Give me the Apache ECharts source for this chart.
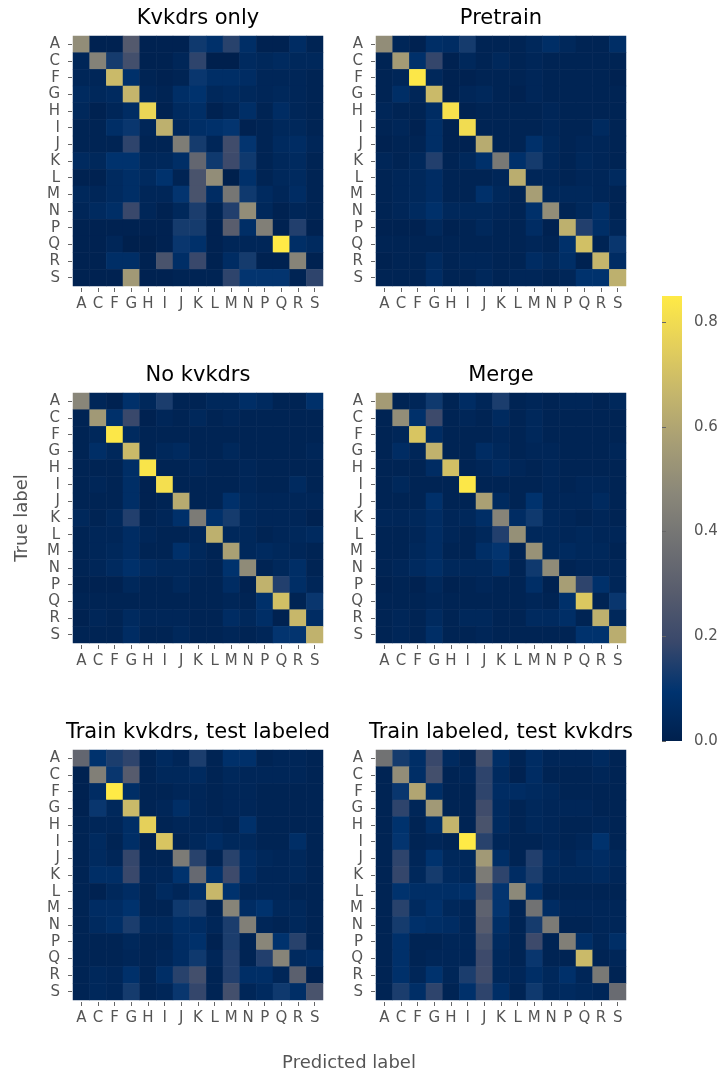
<!DOCTYPE html>
<html>
<head>
<meta charset="utf-8">
<script src="https://cdn.jsdelivr.net/npm/echarts@6/dist/echarts.min.js"></script>
<style>
html,body{margin:0;padding:0;background:#fff;}
#chart{width:721px;height:1075px;}
</style>
</head>
<body>
<div id="chart"></div>
<script>
// ---- data ----
const labels = ['A','C','F','G','H','I','J','K','L','M','N','P','Q','R','S'];
const titles = ['Kvkdrs only','Pretrain','No kvkdrs','Merge','Train kvkdrs, test labeled','Train labeled, test kvkdrs'];
const colorbarTicks = [0, 0.2, 0.4, 0.6, 0.8];
const colorMin = 0;
const colorMax = 0.85;

// rows = true label, columns = predicted label
const kvkdrsOnly = [
 [0.50,0.01,0.01,0.27,0.01,0.01,0.01,0.12,0.08,0.16,0.07,0.01,0.01,0.06,0.02],
 [0.03,0.45,0.13,0.22,0.01,0.01,0.03,0.17,0.00,0.00,0.05,0.04,0.05,0.04,0.04],
 [0.03,0.03,0.68,0.08,0.02,0.01,0.02,0.11,0.07,0.07,0.06,0.03,0.03,0.03,0.02],
 [0.05,0.04,0.05,0.66,0.03,0.02,0.07,0.09,0.04,0.05,0.04,0.03,0.04,0.03,0.02],
 [0.04,0.01,0.03,0.06,0.78,0.01,0.05,0.07,0.01,0.03,0.07,0.02,0.06,0.03,0.02],
 [0.02,0.02,0.07,0.11,0.03,0.64,0.04,0.07,0.08,0.10,0.01,0.02,0.04,0.04,0.02],
 [0.02,0.02,0.02,0.17,0.02,0.02,0.43,0.13,0.03,0.21,0.10,0.02,0.05,0.06,0.03],
 [0.05,0.04,0.09,0.09,0.04,0.04,0.07,0.33,0.12,0.20,0.12,0.02,0.04,0.05,0.02],
 [0.01,0.01,0.05,0.07,0.05,0.09,0.02,0.24,0.50,0.00,0.08,0.02,0.04,0.05,0.02],
 [0.04,0.03,0.05,0.07,0.03,0.03,0.10,0.24,0.06,0.40,0.12,0.05,0.03,0.06,0.02],
 [0.03,0.05,0.07,0.19,0.03,0.01,0.04,0.14,0.02,0.15,0.50,0.04,0.01,0.03,0.02],
 [0.01,0.01,0.01,0.01,0.01,0.01,0.13,0.13,0.01,0.29,0.07,0.44,0.01,0.15,0.01],
 [0.01,0.01,0.03,0.00,0.00,0.01,0.11,0.08,0.01,0.03,0.03,0.03,0.85,0.07,0.05],
 [0.01,0.01,0.07,0.07,0.01,0.24,0.07,0.19,0.01,0.06,0.13,0.01,0.01,0.46,0.01],
 [0.01,0.01,0.01,0.55,0.01,0.01,0.02,0.02,0.02,0.17,0.10,0.10,0.10,0.02,0.17]
];
const pretrain = [
 [0.50,0.03,0.01,0.07,0.06,0.13,0.02,0.02,0.02,0.04,0.07,0.04,0.02,0.02,0.07],
 [0.02,0.56,0.08,0.18,0.01,0.04,0.02,0.04,0.02,0.03,0.02,0.02,0.02,0.02,0.02],
 [0.02,0.03,0.84,0.04,0.01,0.01,0.02,0.02,0.02,0.03,0.02,0.02,0.02,0.02,0.01],
 [0.02,0.07,0.03,0.68,0.01,0.03,0.04,0.02,0.01,0.03,0.02,0.02,0.02,0.02,0.02],
 [0.03,0.02,0.02,0.06,0.82,0.01,0.02,0.02,0.02,0.02,0.03,0.02,0.02,0.02,0.02],
 [0.02,0.03,0.01,0.07,0.01,0.80,0.02,0.02,0.02,0.02,0.03,0.02,0.02,0.05,0.02],
 [0.01,0.02,0.02,0.07,0.01,0.01,0.62,0.02,0.02,0.08,0.04,0.02,0.03,0.03,0.02],
 [0.03,0.02,0.04,0.15,0.02,0.04,0.08,0.41,0.08,0.13,0.04,0.02,0.04,0.03,0.02],
 [0.02,0.03,0.04,0.06,0.02,0.02,0.02,0.03,0.63,0.03,0.03,0.02,0.03,0.03,0.05],
 [0.02,0.03,0.04,0.06,0.02,0.02,0.08,0.04,0.02,0.57,0.04,0.04,0.04,0.03,0.02],
 [0.02,0.03,0.05,0.08,0.04,0.04,0.04,0.03,0.02,0.08,0.50,0.02,0.04,0.07,0.02],
 [0.01,0.01,0.01,0.04,0.01,0.02,0.04,0.02,0.02,0.06,0.01,0.64,0.15,0.07,0.03],
 [0.02,0.02,0.02,0.02,0.02,0.02,0.02,0.02,0.02,0.03,0.02,0.08,0.70,0.02,0.11],
 [0.01,0.02,0.02,0.05,0.02,0.03,0.03,0.02,0.02,0.06,0.04,0.07,0.01,0.66,0.06],
 [0.02,0.02,0.02,0.06,0.02,0.02,0.04,0.02,0.03,0.03,0.02,0.03,0.09,0.09,0.64]
];
const noKvkdrs = [
 [0.47,0.03,0.01,0.08,0.04,0.14,0.02,0.02,0.04,0.04,0.07,0.05,0.02,0.02,0.08],
 [0.02,0.55,0.08,0.19,0.01,0.03,0.02,0.04,0.02,0.03,0.02,0.02,0.02,0.02,0.02],
 [0.02,0.04,0.84,0.05,0.02,0.02,0.02,0.02,0.02,0.02,0.02,0.02,0.02,0.02,0.02],
 [0.02,0.07,0.04,0.68,0.02,0.04,0.05,0.02,0.02,0.04,0.02,0.02,0.02,0.02,0.03],
 [0.02,0.02,0.02,0.07,0.83,0.02,0.02,0.03,0.02,0.02,0.03,0.02,0.02,0.02,0.02],
 [0.02,0.03,0.02,0.07,0.01,0.81,0.02,0.02,0.02,0.02,0.03,0.02,0.02,0.05,0.02],
 [0.02,0.02,0.02,0.07,0.01,0.02,0.62,0.02,0.02,0.08,0.04,0.03,0.03,0.03,0.03],
 [0.04,0.02,0.04,0.15,0.02,0.03,0.08,0.42,0.08,0.13,0.04,0.03,0.03,0.03,0.01],
 [0.02,0.03,0.03,0.06,0.03,0.02,0.02,0.03,0.64,0.04,0.04,0.02,0.03,0.04,0.05],
 [0.02,0.03,0.04,0.06,0.02,0.02,0.08,0.04,0.02,0.58,0.04,0.05,0.04,0.03,0.02],
 [0.02,0.03,0.05,0.08,0.05,0.04,0.04,0.03,0.02,0.09,0.49,0.02,0.04,0.07,0.02],
 [0.01,0.01,0.01,0.04,0.02,0.02,0.04,0.02,0.02,0.06,0.01,0.65,0.15,0.07,0.03],
 [0.02,0.02,0.02,0.02,0.02,0.02,0.02,0.02,0.02,0.03,0.02,0.08,0.70,0.02,0.11],
 [0.01,0.03,0.02,0.05,0.03,0.03,0.03,0.02,0.02,0.06,0.04,0.07,0.01,0.67,0.06],
 [0.02,0.02,0.02,0.06,0.02,0.02,0.04,0.02,0.02,0.03,0.02,0.03,0.10,0.10,0.65]
];
const merge = [
 [0.56,0.02,0.03,0.12,0.02,0.06,0.03,0.14,0.02,0.03,0.02,0.03,0.03,0.02,0.04],
 [0.02,0.50,0.08,0.20,0.02,0.03,0.02,0.05,0.02,0.04,0.02,0.02,0.02,0.02,0.02],
 [0.02,0.03,0.72,0.06,0.02,0.02,0.02,0.03,0.02,0.04,0.02,0.02,0.02,0.02,0.02],
 [0.02,0.06,0.03,0.65,0.02,0.02,0.06,0.04,0.02,0.03,0.03,0.02,0.02,0.02,0.03],
 [0.02,0.02,0.02,0.06,0.70,0.02,0.03,0.05,0.03,0.02,0.03,0.02,0.02,0.02,0.02],
 [0.02,0.04,0.02,0.02,0.02,0.84,0.02,0.02,0.02,0.02,0.03,0.02,0.03,0.03,0.02],
 [0.02,0.02,0.02,0.08,0.02,0.02,0.58,0.05,0.02,0.09,0.03,0.03,0.03,0.05,0.02],
 [0.03,0.03,0.04,0.06,0.03,0.04,0.07,0.46,0.06,0.12,0.04,0.03,0.02,0.03,0.02],
 [0.02,0.02,0.03,0.06,0.03,0.02,0.04,0.15,0.51,0.04,0.04,0.03,0.04,0.03,0.03],
 [0.02,0.02,0.04,0.06,0.02,0.02,0.07,0.10,0.02,0.52,0.04,0.05,0.04,0.04,0.02],
 [0.02,0.03,0.05,0.07,0.04,0.04,0.04,0.07,0.02,0.12,0.49,0.02,0.03,0.03,0.03],
 [0.01,0.02,0.01,0.04,0.01,0.02,0.03,0.02,0.02,0.07,0.01,0.57,0.17,0.08,0.03],
 [0.02,0.02,0.02,0.03,0.02,0.02,0.02,0.02,0.02,0.03,0.02,0.08,0.73,0.02,0.11],
 [0.02,0.03,0.02,0.05,0.02,0.04,0.04,0.02,0.02,0.05,0.05,0.07,0.02,0.64,0.04],
 [0.02,0.03,0.02,0.07,0.02,0.02,0.03,0.02,0.02,0.02,0.02,0.02,0.09,0.09,0.63]
];
const trainKvkdrsTestLabeled = [
 [0.33,0.09,0.14,0.17,0.02,0.05,0.03,0.14,0.02,0.08,0.08,0.02,0.03,0.03,0.02],
 [0.01,0.44,0.11,0.28,0.02,0.04,0.04,0.05,0.02,0.04,0.03,0.03,0.03,0.03,0.02],
 [0.01,0.06,0.85,0.07,0.02,0.02,0.03,0.03,0.02,0.03,0.03,0.02,0.02,0.02,0.02],
 [0.01,0.11,0.04,0.68,0.02,0.03,0.07,0.03,0.02,0.03,0.03,0.02,0.02,0.02,0.02],
 [0.02,0.03,0.03,0.07,0.76,0.02,0.03,0.03,0.03,0.02,0.08,0.02,0.02,0.02,0.02],
 [0.02,0.05,0.02,0.07,0.01,0.72,0.02,0.04,0.06,0.04,0.04,0.02,0.02,0.07,0.02],
 [0.02,0.05,0.03,0.18,0.02,0.02,0.42,0.16,0.02,0.16,0.06,0.04,0.03,0.04,0.02],
 [0.02,0.07,0.07,0.19,0.03,0.03,0.09,0.34,0.08,0.20,0.06,0.03,0.03,0.04,0.02],
 [0.02,0.01,0.04,0.06,0.02,0.05,0.03,0.07,0.67,0.09,0.03,0.03,0.03,0.02,0.02],
 [0.02,0.06,0.06,0.09,0.02,0.02,0.12,0.14,0.02,0.46,0.06,0.09,0.04,0.04,0.02],
 [0.02,0.05,0.07,0.14,0.04,0.04,0.07,0.06,0.03,0.14,0.44,0.03,0.02,0.04,0.02],
 [0.02,0.02,0.02,0.04,0.02,0.02,0.06,0.08,0.01,0.14,0.02,0.47,0.09,0.16,0.02],
 [0.02,0.02,0.02,0.03,0.02,0.03,0.06,0.12,0.03,0.15,0.02,0.15,0.46,0.05,0.06],
 [0.02,0.04,0.03,0.08,0.02,0.07,0.16,0.22,0.02,0.15,0.07,0.07,0.03,0.30,0.01],
 [0.02,0.04,0.03,0.13,0.02,0.03,0.11,0.18,0.02,0.22,0.03,0.05,0.12,0.07,0.24]
];
const trainLabeledTestKvkdrs = [
 [0.38,0.13,0.07,0.19,0.05,0.02,0.22,0.07,0.02,0.06,0.03,0.03,0.03,0.05,0.02],
 [0.02,0.50,0.07,0.22,0.02,0.03,0.17,0.05,0.01,0.06,0.02,0.02,0.02,0.03,0.02],
 [0.02,0.11,0.60,0.07,0.02,0.02,0.17,0.06,0.06,0.05,0.04,0.02,0.02,0.02,0.02],
 [0.02,0.17,0.03,0.55,0.02,0.02,0.21,0.05,0.02,0.04,0.03,0.03,0.03,0.02,0.02],
 [0.02,0.09,0.02,0.07,0.66,0.02,0.24,0.05,0.02,0.04,0.03,0.02,0.02,0.03,0.02],
 [0.02,0.10,0.02,0.03,0.02,0.85,0.16,0.03,0.02,0.02,0.03,0.02,0.03,0.09,0.02],
 [0.02,0.17,0.03,0.09,0.04,0.04,0.55,0.07,0.02,0.15,0.05,0.03,0.05,0.06,0.04],
 [0.02,0.18,0.04,0.13,0.05,0.04,0.42,0.17,0.06,0.14,0.04,0.04,0.04,0.05,0.03],
 [0.02,0.09,0.07,0.07,0.07,0.08,0.24,0.10,0.48,0.08,0.02,0.02,0.02,0.02,0.02],
 [0.02,0.16,0.05,0.08,0.04,0.03,0.31,0.10,0.02,0.38,0.06,0.03,0.03,0.03,0.03],
 [0.02,0.13,0.08,0.07,0.06,0.03,0.28,0.07,0.02,0.13,0.42,0.02,0.02,0.03,0.03],
 [0.02,0.08,0.02,0.02,0.03,0.03,0.23,0.05,0.02,0.20,0.02,0.44,0.07,0.03,0.07],
 [0.02,0.08,0.02,0.03,0.03,0.03,0.20,0.04,0.02,0.11,0.02,0.02,0.68,0.02,0.03],
 [0.02,0.08,0.03,0.09,0.03,0.14,0.21,0.04,0.03,0.07,0.04,0.08,0.03,0.41,0.02],
 [0.02,0.14,0.07,0.17,0.02,0.08,0.17,0.07,0.02,0.12,0.04,0.05,0.04,0.03,0.35]
];
const matrices = [kvkdrsOnly, pretrain, noKvkdrs, merge, trainKvkdrsTestLabeled, trainLabeledTestKvkdrs];

// cividis colormap stops
const cividis = ['#00204D','#00336F','#39486B','#575C6D','#707173','#8A8779','#A69D75','#C4B56C','#E4CF5B','#FFEA46'];

// ---- layout ----
const gridPos = [[73,36],[376,36],[73,393],[376,393],[73,750],[376,750]];
const cell = 250;
const labelColor = '#555555';
const fontFam = 'DejaVu Sans';
const cbar = {x: 662, y: 296, w: 20, h: 445};

const grids = [], xAxes = [], yAxes = [], series = [], graphics = [];
gridPos.forEach((p, k) => {
  grids.push({left: p[0], top: p[1], width: cell, height: cell, containLabel: false});
  xAxes.push({
    type: 'category', gridIndex: k, data: labels, position: 'bottom', offset: 2,
    axisLine: {show: false},
    axisTick: {show: true, alignWithLabel: true, length: 4, lineStyle: {color: '#666', width: 1}},
    axisLabel: {color: labelColor, fontSize: 15, fontFamily: fontFam, margin: 9, interval: 0},
    splitLine: {show: false}
  });
  yAxes.push({
    type: 'category', gridIndex: k, data: labels, inverse: true, offset: 1,
    axisLine: {show: false},
    axisTick: {show: true, alignWithLabel: true, length: 4, lineStyle: {color: '#666', width: 1}},
    axisLabel: {color: labelColor, fontSize: 15, fontFamily: fontFam, margin: 12, interval: 0},
    splitLine: {show: false}
  });
  const data = [];
  matrices[k].forEach((row, i) => row.forEach((v, j) => data.push([j, i, v])));
  series.push({
    type: 'heatmap', xAxisIndex: k, yAxisIndex: k, data: data,
    itemStyle: {borderWidth: 0}, emphasis: {disabled: true}, progressive: 0
  });
  graphics.push({
    type: 'text', x: p[0] + cell / 2, y: p[1] - 17,
    style: {text: titles[k], fill: '#000', font: '21px "DejaVu Sans"', textAlign: 'center', textVerticalAlign: 'middle'}
  });
});

// colorbar axis grid
grids.push({left: cbar.x, top: cbar.y, width: cbar.w, height: cbar.h});
xAxes.push({type: 'value', gridIndex: 6, show: false, min: 0, max: 1});
yAxes.push({
  type: 'value', gridIndex: 6, min: colorMin, max: colorMax, position: 'right', offset: 2,
  axisLine: {show: false},
  splitLine: {show: false},
  axisTick: {show: true, length: 4, lineStyle: {color: '#666'}, customValues: colorbarTicks},
  axisLabel: {color: labelColor, fontSize: 15, fontFamily: fontFam, margin: 10,
    customValues: colorbarTicks, formatter: v => v.toFixed(1)}
});

// colorbar gradient (same colormap as the visualMap, bottom = min, top = max)
graphics.push({
  type: 'rect', shape: {x: cbar.x, y: cbar.y, width: cbar.w, height: cbar.h},
  style: {fill: new echarts.graphic.LinearGradient(0, 1, 0, 0,
    cividis.map((c, i) => ({offset: i / (cividis.length - 1), color: c})))}
});

graphics.push({
  type: 'text', x: 349, y: 1063,
  style: {text: 'Predicted label', fill: labelColor, font: '18px "DejaVu Sans"', textAlign: 'center', textVerticalAlign: 'middle'}
});
graphics.push({
  type: 'text', x: 22, y: 518, rotation: Math.PI / 2,
  style: {text: 'True label', fill: labelColor, font: '18px "DejaVu Sans"', textAlign: 'center', textVerticalAlign: 'middle'}
});

const chart = echarts.init(document.getElementById('chart'), null, {renderer: 'canvas'});
chart.setOption({
  backgroundColor: '#ffffff',
  animation: false,
  grid: grids,
  xAxis: xAxes,
  yAxis: yAxes,
  visualMap: {
    type: 'continuous', min: colorMin, max: colorMax, seriesIndex: [0,1,2,3,4,5],
    show: false, inRange: {color: cividis}
  },
  series: series,
  graphic: graphics
});
</script>
</body>
</html>
